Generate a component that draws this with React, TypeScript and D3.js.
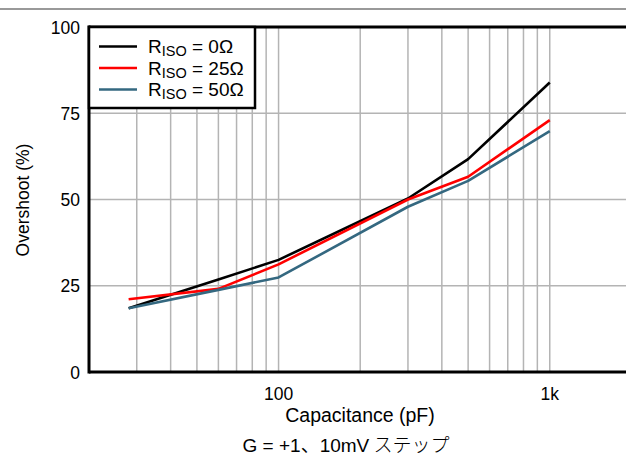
import React from "react";
import * as d3 from "d3";

const capacitance = [28, 60, 100, 300, 500, 1000];
const riso0 = [18.5, 26.8, 32.5, 50.3, 61.7, 83.9];
const riso25 = [21.1, 24.1, 31.2, 50.0, 56.6, 73.0];
const riso50 = [18.5, 23.8, 27.4, 47.9, 55.4, 69.8];
const seriesNames = ["0Ω", "25Ω", "50Ω"];
const seriesColors = ["#000000", "#ff0000", "#346880"];
const yTicks = [0, 25, 50, 75, 100];
const xTickValues = [100, 1000];
const xTickLabels = ["100", "1k"];
const xGridValues = [30, 40, 50, 60, 70, 80, 90, 100, 200, 300, 400, 500, 600, 700, 800, 900, 1000];

const W = 626;
const H = 460;
const left = 89;
const right = 631.4;
const top = 27;
const bottom = 372;

export default function App() {
  const x = d3.scaleLog().domain([20, 2000]).range([left, right]);
  const y = d3.scaleLinear().domain([0, 100]).range([bottom, top]);
  const line = d3
    .line<[number, number]>()
    .x((d) => x(d[0]))
    .y((d) => y(d[1]));
  const all = [riso0, riso25, riso50];
  const font = "'Liberation Sans', Arial, sans-serif";

  return (
    <svg
      width={W}
      height={H}
      style={{ position: "absolute", left: 0, top: 0, background: "#fff" }}
      fontFamily={font}
    >
      <rect x={0} y={0} width={W} height={H} fill="#fff" />
      <line x1={0} x2={W} y1={9} y2={9} stroke="#999" strokeWidth={2} />
      {/* grid */}
      {xGridValues.map((v) => (
        <line key={"gx" + v} x1={x(v)} x2={x(v)} y1={top} y2={bottom} stroke="#b4b4b4" strokeWidth={1.5} />
      ))}
      {yTicks.slice(1, -1).map((v) => (
        <line key={"gy" + v} x1={left} x2={W} y1={y(v)} y2={y(v)} stroke="#b4b4b4" strokeWidth={1.5} />
      ))}
      {/* series */}
      {all.map((s, i) => (
        <path
          key={"s" + i}
          d={line(capacitance.map((c, j) => [c, s[j]] as [number, number])) || ""}
          fill="none"
          stroke={seriesColors[i]}
          strokeWidth={2.6}
          strokeLinejoin="round"
        />
      ))}
      {/* frame */}
      <line x1={left} x2={W + 10} y1={top} y2={top} stroke="#000" strokeWidth={3} />
      <line x1={left} x2={W + 10} y1={bottom} y2={bottom} stroke="#000" strokeWidth={3} />
      <line x1={left} x2={left} y1={top - 1.5} y2={bottom + 1.5} stroke="#000" strokeWidth={3} />
      {/* legend */}
      <rect x={left} y={top} width={166} height={81} fill="#fff" stroke="#000" strokeWidth={2.5} />
      {seriesNames.map((n, i) => {
        const ly = 46.5 + i * 21.5;
        return (
          <g key={"lg" + i}>
            <line x1={99} x2={137} y1={ly} y2={ly} stroke={seriesColors[i]} strokeWidth={2.6} />
            <text x={148} y={ly + 6.5} fontSize={19} fill="#000">
              R
              <tspan fontSize={14.5} dy={3}>ISO</tspan>
              <tspan dy={-3}>{" = " + n}</tspan>
            </text>
          </g>
        );
      })}
      {/* y ticks */}
      {yTicks.map((v) => (
        <text key={"yt" + v} x={80} y={y(v) + 6.5} fontSize={17.5} textAnchor="end" fill="#000">
          {v}
        </text>
      ))}
      {/* x ticks */}
      {xTickValues.map((v, i) => (
        <text key={"xt" + v} x={x(v)} y={400} fontSize={17.5} textAnchor="middle" fill="#000">
          {xTickLabels[i]}
        </text>
      ))}
      <text x={360} y={422} fontSize={19.5} textAnchor="middle" fill="#000">
        Capacitance (pF)
      </text>
      <text
        transform={`translate(29,200) rotate(-90)`}
        fontSize={17.5}
        textAnchor="middle"
        fill="#000"
      >
        Overshoot (%)
      </text>
      <text x={346} y={452} fontSize={19} textAnchor="middle" fill="#000">
        G = +1
        <tspan fontFamily="'Noto Sans CJK JP'">、</tspan>
        10mV
        <tspan fontFamily="'Noto Sans CJK JP'" fontWeight={300}> ステップ</tspan>
      </text>
    </svg>
  );
}
